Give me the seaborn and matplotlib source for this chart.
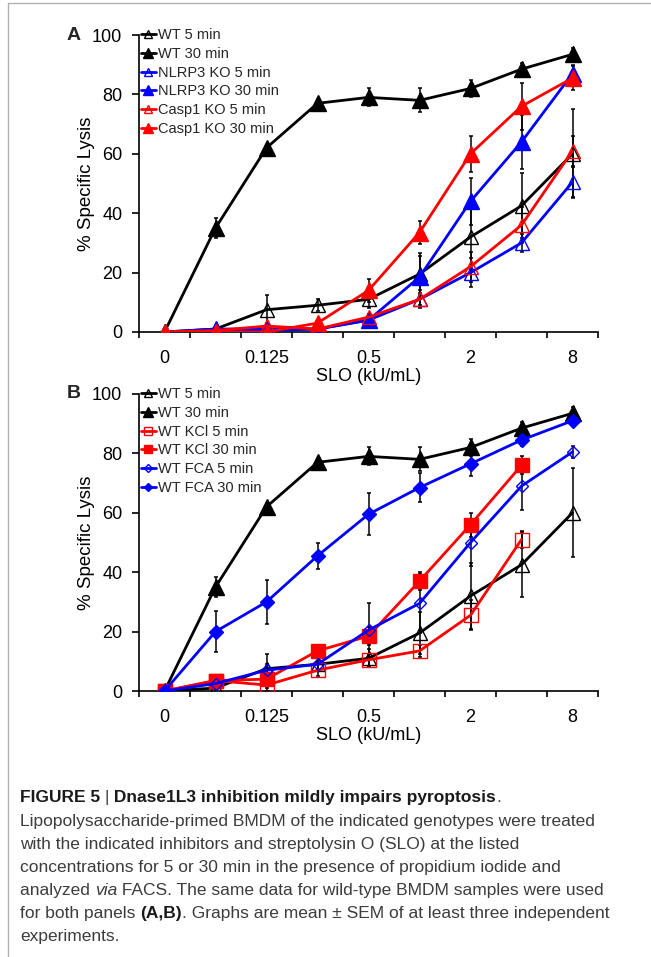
import numpy as np
import pandas as pd
import matplotlib
matplotlib.use("Agg")
import matplotlib.pyplot as plt
import seaborn as sns
from matplotlib.lines import Line2D

# SLO concentrations (kU/mL), one category per point
conc = ["0", "0.0625", "0.125", "0.25", "0.5", "1", "2", "4", "8"]

# panel A: % specific lysis (mean) and SEM
wt5 = [0, 1, 7.5, 9, 11, 19.5, 32, 42.5, 60]
wt5_err = [0, 0.5, 5, 2, 3, 7, 11, 11, 15]
wt30 = [0, 35, 62, 77, 79, 78, 82, 88.5, 93.5]
wt30_err = [0, 3.5, 1, 1.5, 3, 4, 3, 2, 2]
nlrp3_5 = [0, 0.5, 0.5, 1, 4, 11, 20, 30, 50.5]
nlrp3_5_err = [0, 0.3, 0.3, 0.5, 1, 2, 5, 3, 5]
nlrp3_30 = [0, 1, 1, 1, 4, 18.5, 44, 64, 87]
nlrp3_30_err = [0, 0.5, 0.5, 0.5, 2, 7, 8, 9, 3]
casp1_5 = [0, 0.5, 2, 1, 5, 11, 22, 36, 61]
casp1_5_err = [0, 0.3, 1, 0.5, 1, 3, 5, 6, 5]
casp1_30 = [0, 0, 0, 3, 14, 33.5, 60, 76, 85.5]
casp1_30_err = [0, 0.3, 0.3, 1, 4, 4, 6, 8, 4]

# panel B: inhibitor-treated WT (KCl has no 8 kU/mL point)
kcl5 = [0, 3.5, 2, 7, 10.5, 13.5, 25.5, 51]
kcl5_err = [0, 1.5, 2, 2, 2, 2, 5, 3]
kcl30 = [0, 3.5, 4, 13.5, 18.5, 37, 56, 76]
kcl30_err = [0, 2, 3, 2, 3, 3, 4, 3]
fca5 = [0, 2.5, 7, 9, 20.5, 29.5, 50, 69, 80.5]
fca5_err = [0, 1, 2, 2, 9, 10, 8, 8, 2]
fca30 = [0, 20, 30, 45.5, 59.5, 68.5, 76.5, 84.5, 91]
fca30_err = [0, 7, 7.5, 4.5, 7, 5, 4, 2, 1.5]

caption_lines = [
    [("FIGURE 5 ", "bold"), ("|", "normal"),
     (" Dnase1L3 inhibition mildly impairs pyroptosis", "bold"), (".", "normal")],
    [("Lipopolysaccharide-primed BMDM of the indicated genotypes were treated", "normal")],
    [("with the indicated inhibitors and streptolysin O (SLO) at the listed", "normal")],
    [("concentrations for 5 or 30 min in the presence of propidium iodide and", "normal")],
    [("analyzed ", "normal"), ("via", "italic"),
     (" FACS. The same data for wild-type BMDM samples were used", "normal")],
    [("for both panels ", "normal"), ("(A,B)", "bold"),
     (". Graphs are mean \u00b1 SEM of at least three independent", "normal")],
    [("experiments.", "normal")],
]

sns.set_theme(style="ticks")
plt.rcParams["font.family"] = ["Liberation Sans", "DejaVu Sans"]

W, H = 651, 957
fig = plt.figure(figsize=(W / 100, H / 100), dpi=100)


def px_axes(left, top, right, bottom):
    return fig.add_axes([left / W, 1 - bottom / H, (right - left) / W, (bottom - top) / H])


axA = px_axes(139, 35, 598, 332)
axB = px_axes(139, 394, 598, 691)

seriesA = [
    ("WT 5 min", wt5, wt5_err, "black", "^", False, 10),
    ("WT 30 min", wt30, wt30_err, "black", "^", True, 11),
    ("NLRP3 KO 5 min", nlrp3_5, nlrp3_5_err, "blue", "^", False, 10),
    ("NLRP3 KO 30 min", nlrp3_30, nlrp3_30_err, "blue", "^", True, 11),
    ("Casp1 KO 5 min", casp1_5, casp1_5_err, "red", "^", False, 10),
    ("Casp1 KO 30 min", casp1_30, casp1_30_err, "red", "^", True, 11),
]
seriesB = [
    ("WT 5 min", wt5, wt5_err, "black", "^", False, 10),
    ("WT 30 min", wt30, wt30_err, "black", "^", True, 11),
    ("WT KCl 5 min", kcl5, kcl5_err, "red", "s", False, 9.5),
    ("WT KCl 30 min", kcl30, kcl30_err, "red", "s", True, 10),
    ("WT FCA 5 min", fca5, fca5_err, "blue", "D", False, 6.5),
    ("WT FCA 30 min", fca30, fca30_err, "blue", "D", True, 7.5),
]


def draw_panel(ax, series, letter, top_px):
    for label, y, err, color, marker, filled, ms in series:
        x = np.arange(len(y))
        ax.errorbar(x, y, yerr=err, fmt="none", ecolor="black",
                    elinewidth=1.1, capsize=1.5, capthick=1.1, zorder=2)
        df = pd.DataFrame({"x": x, "y": y})
        sns.lineplot(data=df, x="x", y="y", ax=ax, color=color, linewidth=2,
                     marker=marker, markersize=ms,
                     markerfacecolor=color if filled else "none",
                     markeredgecolor=color, markeredgewidth=1,
                     label=label, zorder=3)

    ax.set_xlim(-0.5, 8.5)
    ax.set_ylim(0, 100)
    ax.set_xticks(np.arange(0, 9, 2))
    ax.set_xticklabels(conc[::2])
    ax.set_xticks(np.arange(-0.5, 9, 1), minor=True)
    ax.set_yticks(range(0, 101, 20))
    ax.tick_params(axis="x", which="major", length=0, pad=13, labelsize=13,
                   colors="black")
    ax.tick_params(axis="x", which="minor", length=4, width=1.2, color="black")
    ax.tick_params(axis="y", length=5, width=1.2, pad=7, labelsize=13,
                   colors="black")
    sns.despine(ax=ax)
    for s in ["left", "bottom"]:
        ax.spines[s].set_linewidth(1.2)
        ax.spines[s].set_color("black")

    ax.set_xlabel("SLO (kU/mL)", fontsize=13, labelpad=0.5, color="black")
    ax.set_ylabel("% Specific Lysis", fontsize=13.5, color="black",
                  family=["Liberation Sans Narrow", "Liberation Sans"])
    ax.yaxis.set_label_coords(-0.096, 0.5)

    ax.legend(loc="upper left", bbox_to_anchor=(141 / W, 1 - (top_px - 7) / H),
              bbox_transform=fig.transFigure, frameon=False, fontsize=10.5,
              handlelength=1.0, handletextpad=0.15, labelspacing=0.33,
              borderpad=0, borderaxespad=0, markerscale=0.6)

    fig.text(74 / W, 1 - top_px / H, letter, fontsize=14, fontweight="bold",
             ha="center", va="center")


draw_panel(axA, seriesA, "A", 35)
draw_panel(axB, seriesB, "B", 394)

# thin grey frame on the top and left of the figure
fig.add_artist(Line2D([8 / W, 1], [1 - 3 / H, 1 - 3 / H], color="#b0b0b0", lw=1))
fig.add_artist(Line2D([8 / W, 8 / W], [1 - 3 / H, 0], color="#b0b0b0", lw=1))

# caption, written run by run so bold / italic words can sit inline
renderer = fig.canvas.get_renderer()


def run_width(text, **kw):
    a = fig.text(0, 0, text + "|", **kw)
    b = fig.text(0, 0, "|", **kw)
    w = a.get_window_extent(renderer).width - b.get_window_extent(renderer).width
    a.remove()
    b.remove()
    return w


baselines = [802, 826, 849, 872, 895, 918, 941]
for base, runs in zip(baselines, caption_lines):
    x = 20
    for text, style in runs:
        kw = dict(fontsize=12.5, color="#3c3c3c")
        if style == "bold":
            kw.update(fontweight="bold", color="#1a1a1a")
        elif style == "italic":
            kw.update(fontstyle="italic")
        fig.text(x / W, 1 - base / H, text, va="baseline", ha="left", **kw)
        x += run_width(text, **kw)

fig.savefig("out.png", dpi=100)
